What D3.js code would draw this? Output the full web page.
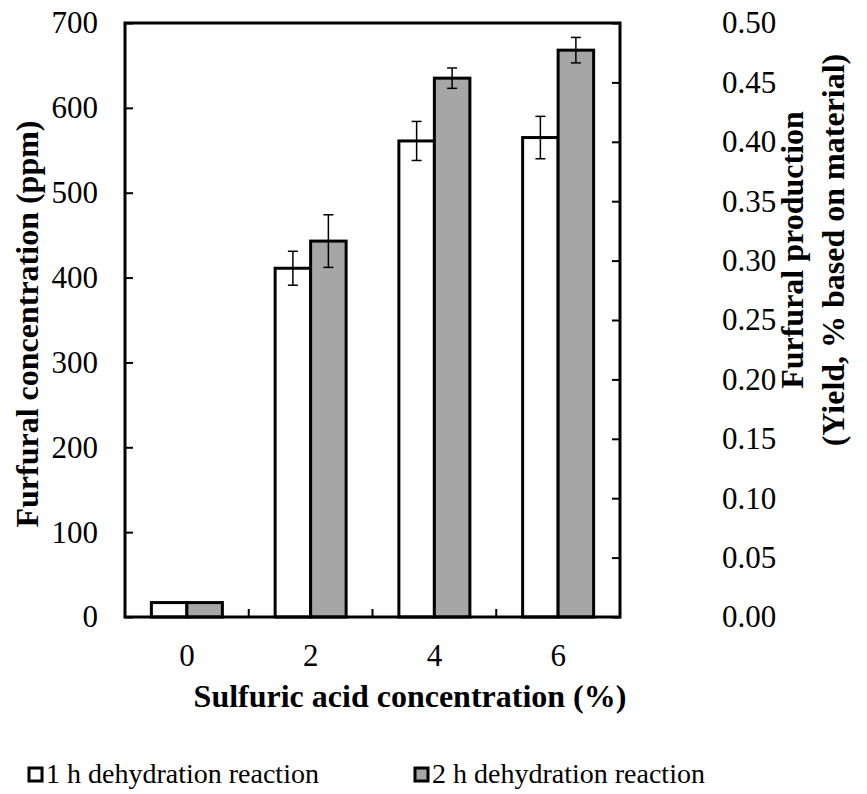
<!DOCTYPE html>
<html>
<head>
<meta charset="utf-8">
<script src="https://cdn.jsdelivr.net/npm/d3@7"></script>
<style>
  body { margin: 0; background: #fff; }
  text { font-family: "Liberation Serif", "Times New Roman", serif; fill: #000; }
</style>
</head>
<body>
<script>
// chart data
const categories = ["0", "2", "4", "6"];
const seriesNames = ["1 h dehydration reaction", "2 h dehydration reaction"];
const values1h = [17, 411, 561, 565];
const errors1h = [0, 20, 23, 25];
const values2h = [17, 443, 635, 668];
const errors2h = [0, 31, 12, 15];
const leftTicks = [0, 100, 200, 300, 400, 500, 600, 700];
const rightTicks = [0, 0.05, 0.10, 0.15, 0.20, 0.25, 0.30, 0.35, 0.40, 0.45, 0.50];

const W = 867, H = 794;
const m = { top: 23, left: 125, right: 247, bottom: 177 };
const w = W - m.left - m.right;   // 495
const h = H - m.top - m.bottom;   // 594
const fills = ["#ffffff", "#a6a6a6"];

const svg = d3.select("body").append("svg")
    .attr("width", W)
    .attr("height", H);

const g = svg.append("g").attr("transform", "translate(" + m.left + "," + m.top + ")");

const x = d3.scaleBand().domain(categories).range([0, w]);
const xIn = d3.scaleBand().domain([0, 1])
    .range([x.bandwidth() / 2 - 35.5, x.bandwidth() / 2 + 35.5]);
const y = d3.scaleLinear().domain([0, 700]).range([h, 0]);
const y2 = d3.scaleLinear().domain([0, 0.5]).range([h, 0]);

// bars
const rows = categories.map((c, i) => [
    { cat: c, s: 0, v: values1h[i], e: errors1h[i] },
    { cat: c, s: 1, v: values2h[i], e: errors2h[i] }
]).flat();

g.selectAll("rect.bar")
    .data(rows)
    .enter()
    .append("rect")
    .attr("class", "bar")
    .attr("x", d => x(d.cat) + xIn(d.s))
    .attr("y", d => y(d.v))
    .attr("width", xIn.bandwidth())
    .attr("height", d => h - y(d.v))
    .attr("fill", d => fills[d.s])
    .attr("stroke", "#000")
    .attr("stroke-width", 3);

// error bars
const errs = rows.filter(d => d.e > 0);
const eb = g.selectAll("g.err").data(errs).enter().append("g")
    .attr("transform", d => "translate(" + (x(d.cat) + xIn(d.s) + xIn.bandwidth() / 2) + ",0)");
eb.append("line")
    .attr("y1", d => y(d.v + d.e)).attr("y2", d => y(d.v - d.e))
    .attr("stroke", "#000").attr("stroke-width", 1.5);
eb.append("line")
    .attr("x1", -5).attr("x2", 5)
    .attr("y1", d => y(d.v + d.e)).attr("y2", d => y(d.v + d.e))
    .attr("stroke", "#000").attr("stroke-width", 1.5);
eb.append("line")
    .attr("x1", -5).attr("x2", 5)
    .attr("y1", d => y(d.v - d.e)).attr("y2", d => y(d.v - d.e))
    .attr("stroke", "#000").attr("stroke-width", 1.5);

// left axis
const yAxis = d3.axisLeft(y).tickValues(leftTicks).tickSize(-8).tickPadding(27).tickFormat(d3.format("d"));
g.append("g").attr("class", "axis").call(yAxis);

// right axis
const yAxis2 = d3.axisRight(y2).tickValues(rightTicks).tickSize(-8).tickPadding(102).tickFormat(d3.format(".2f"));
g.append("g").attr("class", "axis").attr("transform", "translate(" + w + ",0)").call(yAxis2);

// bottom axis: ticks between groups, labels at centers
const xAxis = d3.axisBottom(x).tickSize(0).tickPadding(27);
g.append("g").attr("class", "axis").attr("transform", "translate(0," + h + ")").call(xAxis);
g.selectAll("line.sep")
    .data(categories.slice(1))
    .enter()
    .append("line")
    .attr("class", "sep")
    .attr("x1", d => x(d)).attr("x2", d => x(d))
    .attr("y1", h).attr("y2", h - 8)
    .attr("stroke", "#000").attr("stroke-width", 2);

g.selectAll(".axis path").remove();
g.selectAll(".axis line").attr("stroke", "#000").attr("stroke-width", 2);
g.selectAll(".axis text")
    .attr("font-family", "'Liberation Serif', 'Times New Roman', serif")
    .attr("font-size", 31)
    .attr("fill", "#000");

// frame
g.append("rect")
    .attr("width", w).attr("height", h)
    .attr("fill", "none")
    .attr("stroke", "#000")
    .attr("stroke-width", 3);

// axis titles
svg.append("text")
    .attr("x", 410).attr("y", 707)
    .attr("text-anchor", "middle")
    .attr("font-size", 32)
    .attr("font-weight", "bold")
    .text("Sulfuric acid concentration (%)");

svg.append("text")
    .attr("transform", "translate(38,324) rotate(-90)")
    .attr("text-anchor", "middle")
    .attr("font-size", 32)
    .attr("font-weight", "bold")
    .text("Furfural concentration (ppm)");

svg.append("text")
    .attr("transform", "translate(803,250) rotate(-90)")
    .attr("text-anchor", "middle")
    .attr("font-size", 32)
    .attr("font-weight", "bold")
    .text("Furfural production");

svg.append("text")
    .attr("transform", "translate(844,250) rotate(-90)")
    .attr("text-anchor", "middle")
    .attr("font-size", 32)
    .attr("font-weight", "bold")
    .text("(Yield, % based on material)");

// legend
const legX = [29, 415];
const leg = svg.selectAll("g.leg")
    .data(seriesNames)
    .enter()
    .append("g")
    .attr("class", "leg")
    .attr("transform", (d, i) => "translate(" + legX[i] + ",768)");
leg.append("rect")
    .attr("width", 13).attr("height", 13)
    .attr("fill", (d, i) => fills[i])
    .attr("stroke", "#000")
    .attr("stroke-width", 3);
leg.append("text")
    .attr("x", 17).attr("y", 15)
    .attr("font-size", 28)
    .text(d => d);
</script>
</body>
</html>
